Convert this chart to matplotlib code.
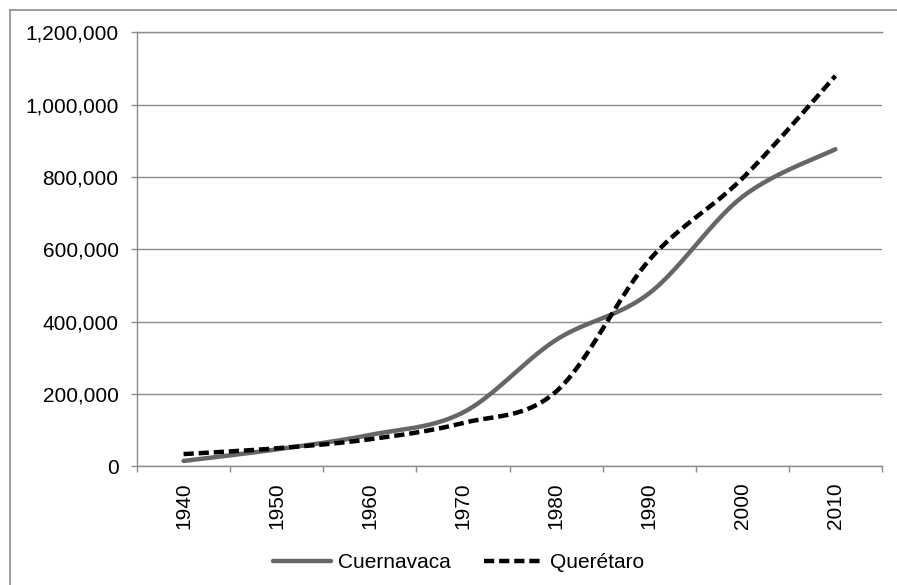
import matplotlib
matplotlib.use('Agg')
import matplotlib.pyplot as plt
import numpy as np
from matplotlib.ticker import FuncFormatter

plt.rcParams['font.family'] = ['Liberation Sans', 'DejaVu Sans']

# data
years = ['1940', '1950', '1960', '1970', '1980', '1990', '2000', '2010']
cuernavaca = [14000, 46000, 86000, 148000, 349000, 478000, 745000, 877000]
queretaro = [33000, 49000, 74000, 119000, 206000, 570000, 796000, 1080000]


def smooth(xs, ys, n=40):
    # Catmull-Rom style bezier smoothing (like Excel's smoothed line)
    xs = np.asarray(xs, float)
    ys = np.asarray(ys, float)
    px = np.concatenate([[xs[0]], xs, [xs[-1]]])
    py = np.concatenate([[ys[0]], ys, [ys[-1]]])
    outx, outy = [], []
    t = np.linspace(0, 1, n)
    for i in range(1, len(px) - 2):
        p0 = np.array([px[i], py[i]])
        p3 = np.array([px[i + 1], py[i + 1]])
        c1 = p0 + (np.array([px[i + 1], py[i + 1]]) - np.array([px[i - 1], py[i - 1]])) / 6
        c2 = p3 - (np.array([px[i + 2], py[i + 2]]) - np.array([px[i], py[i]])) / 6
        b = ((1 - t) ** 3)[:, None] * p0 + (3 * (1 - t) ** 2 * t)[:, None] * c1 \
            + (3 * (1 - t) * t ** 2)[:, None] * c2 + (t ** 3)[:, None] * p3
        outx.extend(b[:, 0])
        outy.extend(b[:, 1])
    return outx, outy


fig = plt.figure(figsize=(8.97, 5.85), dpi=100)
ax = fig.add_axes([137 / 897, 1 - 466 / 585, (882 - 137) / 897, (466 - 32.5) / 585])

x = np.arange(len(years))
sx, sy = smooth(x, cuernavaca)
ax.plot(sx, sy, color='#666666', lw=3.2, solid_capstyle='round', label='Cuernavaca')
qx, qy = smooth(x, queretaro)
ax.plot(qx, qy, color='black', lw=3.2, linestyle=(0, (2.3, 1.1)), dash_capstyle='butt',
        label='Querétaro')

ax.set_xlim(-0.5, len(years) - 0.5)
ax.set_ylim(0, 1200000)
ax.set_yticks(np.arange(0, 1200001, 200000))
ax.yaxis.set_major_formatter(FuncFormatter(lambda v, p: f'{int(v):,}'))
ax.set_xticks(x)
ax.set_xticklabels(years, rotation=90)
ax.set_xticks(np.arange(-0.5, len(years), 1), minor=True)
ax.tick_params(axis='x', which='major', length=0, pad=12, labelsize=15)
ax.tick_params(axis='x', which='minor', length=4.3, width=1, color='#8c8c8c')
ax.tick_params(axis='y', length=4.3, width=1, color='#8c8c8c', pad=9, labelsize=15)

ax.grid(axis='y', color='#8c8c8c', lw=1)
ax.axhline(1200000, color='#8c8c8c', lw=1, clip_on=False, zorder=0.5)
ax.set_axisbelow(True)
for s in ['top', 'right']:
    ax.spines[s].set_visible(False)
for s in ['left', 'bottom']:
    ax.spines[s].set_color('#8c8c8c')
    ax.spines[s].set_linewidth(1)

fig.legend(loc='center', bbox_to_anchor=(0.511, 1 - 563 / 585), ncol=2, frameon=False,
           fontsize=15, handlelength=2.8, handletextpad=0.35, columnspacing=1.6)

# outer chart border (only left and top visible)
fig.add_artist(plt.Line2D([9.5 / 897, 9.5 / 897], [0, 1 - 9.5 / 585], color='#8c8c8c', lw=1.2))
fig.add_artist(plt.Line2D([9.5 / 897, 1], [1 - 9.5 / 585, 1 - 9.5 / 585], color='#8c8c8c', lw=1.2))

fig.savefig('out.png', dpi=100)
